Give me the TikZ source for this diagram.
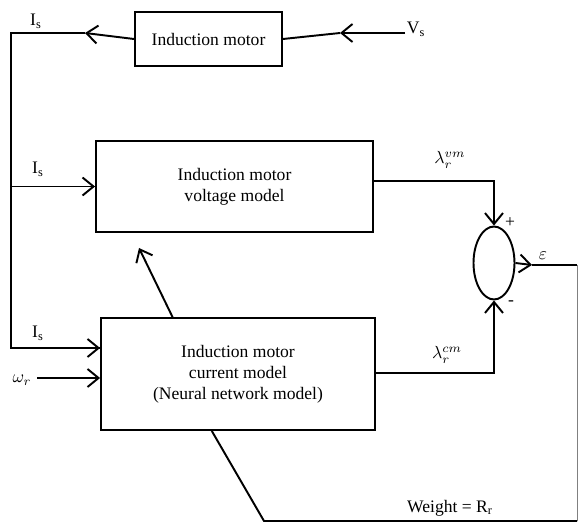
\documentclass[tikz,border=0pt]{standalone}
\usepackage{fontspec}
\setmainfont{Liberation Serif}
\usepackage{tikz}
\usetikzlibrary{arrows.meta, shapes.geometric, calc}

\begin{document}
\begin{tikzpicture}[
		x=0.02cm, y=-0.02cm,
		line width=1.1pt,
		>={Straight Barb[length=2.2mm, width=3.6mm, line width=1.1pt]},
		block/.style={draw, align=center, inner sep=0pt},
		lbl/.style={inner sep=1pt}
	]
	\useasboundingbox (0,0) rectangle (579,527);

	% blocks
	\node[block, minimum width=2.94cm, minimum height=1.08cm] (motor) at (208.5,39) {Induction motor};
	\node[block, minimum width=5.54cm, minimum height=1.82cm] (voltage) at (234.5,186.5) {Induction motor\\voltage model};
	\node[block, minimum width=5.48cm, minimum height=2.24cm] (current) at (238,374) {Induction motor\\current model\\(Neural network model)};
	\node[draw, ellipse, minimum width=0.82cm, minimum height=1.46cm, inner sep=0pt] (sum) at (494,263) {};

	% helper points
	\coordinate (vs) at (405,33);
	\coordinate (corner) at (11,33);
	\coordinate (ws) at (37,378);
	\coordinate (tap) at (173,318);
	\coordinate (tip) at (139,248);
	\coordinate (out) at (577,265);
	\coordinate (bot) at (264,521);
	\coordinate (foot) at ($(current.south west)!0.405!(current.south east)$);

	% top loop
	\draw[->] (vs) -- (340,33);
	\draw (340,33) -- (motor.east);
	\draw[->] (motor.west) -- (85,33);
	\draw (85,33) -- (corner) |- (current.west |- 0,348);
	\draw[->] (50,348) -- (current.west |- 0,348);
	\draw[->] (corner |- voltage.west) -- (voltage.west);
	\draw[->] (ws) -- (current.west |- ws);

	% summing junction
	\draw[->] (voltage.east |- 0,181) -| (sum.north);
	\draw[->] (current.east |- 0,373) -| (sum.south);
	\draw[->] (sum.east) -- (532,265);
	\draw (532,265) -- (out);
	\draw[line width=0.5pt, gray] (out) -- (577,521);
	\draw (577,521) -- (bot) -- (foot);
	\draw[->] (tap) -- (tip);

	% labels
	\node[lbl] at (36,21) {I$_\mathrm{s}$};
	\node[lbl] at (416,29) {V$_\mathrm{s}$};
	\node[lbl] at (38,169) {I$_\mathrm{s}$};
	\node[lbl] at (38,333) {I$_\mathrm{s}$};
	\node[lbl] at (22,380) {$\omega_r$};
	\node[lbl] at (450,160) {$\lambda_r^{vm}$};
	\node[lbl] at (447,355) {$\lambda_r^{cm}$};
	\node[lbl] at (510,223) {+};
	\node[lbl] at (511,303) {-};
	\node[lbl] at (543,256) {$\varepsilon$};
	\node[lbl] at (450,508) {Weight = R$_\mathrm{r}$};
\end{tikzpicture}
\end{document}
